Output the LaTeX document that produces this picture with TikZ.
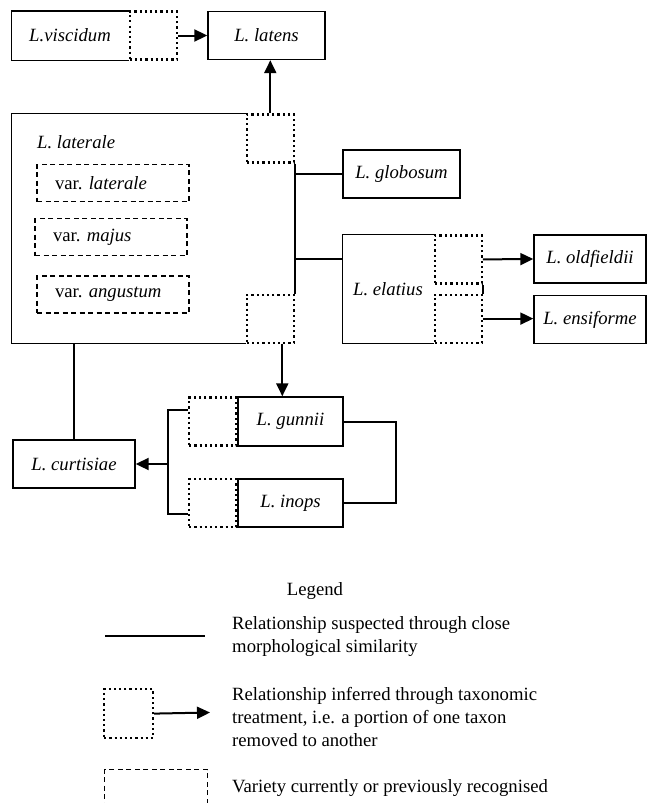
\documentclass[tikz,border=0pt]{standalone}
\usepackage{fontspec}
\setmainfont{Liberation Serif}
\usetikzlibrary{arrows.meta,calc}

\begin{document}
\begin{tikzpicture}[x=1pt,y=-1pt,font=\fontsize{18.7}{23}\selectfont,
  taxon/.style={draw,line width=1.4pt,minimum height=48pt,inner sep=0pt},
  rim/.style={line width=1.4pt},
  portion/.style={draw,line width=2.2pt,dash pattern=on 2.2pt off 3pt,minimum width=47pt,minimum height=48pt,inner sep=0pt},
  vari/.style={draw,line width=1.1pt,dash pattern=on 5pt off 3.5pt,minimum height=37pt,text width=116pt,align=left,inner xsep=18pt,inner ysep=0pt},
  link/.style={line width=2pt},
  arr/.style={link,-{Triangle[length=13pt,width=12pt]}}]
  \clip (0,0) rectangle (648,803);
  % top row
  \node[taxon,draw=none,minimum width=116pt] (visc) at (70,35.5) {\textit{L.viscidum}};
  \node[portion,anchor=west] (pVisc) at (visc.east) {};
  \draw[rim] (visc.north east)--(visc.north west)--(visc.south west)--(visc.south east);
  \node[taxon,minimum width=117pt] (latens) at (266.5,35.5) {\textit{L. latens}};
  % L. laterale with its varieties
  \node[taxon,draw=none,minimum width=233pt,minimum height=229pt] (later) at (128.5,228.5) {};
  \node[portion,anchor=north west] (pLatTop) at (later.north east) {};
  \node[portion,anchor=south west] (pLatBot) at (later.south east) {};
  \draw[rim] (later.north east)--(later.north west)--(later.south west)--(later.south east);
  \draw[rim] (pLatTop.south east)--(pLatBot.north east);
  \node[anchor=west,inner sep=0pt] (laterN) at (37,142) {\textit{L. laterale}};
  \node[vari] (vLat) at (113,183) {var.\ \textit{laterale}};
  \node[vari] (vMaj) at (111,237) {var.\ \textit{majus}};
  \node[vari] (vAng) at (113,294.5) {var.\ \textit{angustum}};
  % right side
  \node[taxon,minimum width=117pt] (glob) at (401.5,174) {\textit{L. globosum}};
  \node[taxon,draw=none,minimum width=90pt,minimum height=108pt] (elat) at (388,289) {\textit{L. elatius}};
  \node[portion,anchor=north west] (pElatA) at (elat.north east) {};
  \node[portion,anchor=south west] (pElatB) at (elat.south east) {};
  \draw[rim] (elat.north east)--(elat.north west)--(elat.south west)--(elat.south east);
  \draw[rim] (pElatA.south east)--(pElatB.north east);
  \node[taxon,minimum width=112pt] (oldf) at (590,259) {\textit{L. oldfieldii}};
  \node[taxon,minimum width=112pt] (ensi) at (590,319.5) {\textit{L. ensiforme}};
  % lower group
  \node[taxon,minimum width=105pt,minimum height=49pt] (gunn) at (290.5,421.5) {\textit{L. gunnii}};
  \node[portion,anchor=east] (pGunn) at (gunn.west) {};
  \node[taxon,minimum width=105pt] (inops) at (290.5,503) {\textit{L. inops}};
  \node[portion,anchor=east] (pInops) at (inops.west) {};
  \node[taxon,minimum width=122pt] (curt) at (74,464) {\textit{L. curtisiae}};
  \coordinate (fork) at (168,464);
  % connectors
  \draw[arr] (pVisc.east)--(latens.west);
  \draw[arr] (pLatTop.north)--(pLatTop.north |- latens.south);
  \draw[link] (pLatTop.east |- glob.west)--(glob.west);
  \draw[link] (pLatTop.east |- pElatA.center)--(elat.west |- pElatA.center);
  \draw[arr] (pElatA.east)--(oldf.west);
  \draw[arr] (pElatB.east)--(pElatB.east -| ensi.west);
  \draw[arr] ([xshift=12pt]pLatBot.south)--([xshift=12pt]pLatBot.south |- gunn.north);
  \draw[link] (curt.north |- later.south)--(curt.north);
  \draw[link] (gunn.east)--++(52,0) |- (inops.east);
  \draw[link] ([yshift=12pt]pGunn.west) -| (fork) |- ([yshift=-11pt]pInops.west);
  \draw[arr] (fork)--(curt.east);
  % legend
  \node (legT) at (315,591) {Legend};
  \coordinate (legS1) at (105,636); \coordinate (legS2) at (205,636);
  \draw[link] (legS1)--(legS2);
  \node[anchor=west,align=left,inner sep=0pt] (leg1) at (232,637) {Relationship suspected through close\\morphological similarity};
  \node[portion,anchor=north west,minimum width=49pt,minimum height=49pt] (pLeg) at (103,688) {};
  \coordinate (legA) at (210,712.5);
  \draw[arr] (pLeg.east)--(legA);
  \node[anchor=west,align=left,inner sep=0pt] (leg2) at (232,717) {Relationship inferred through taxonomic\\treatment, i.e. a portion of one taxon\\removed to another};
  \node[draw,line width=1.1pt,dash pattern=on 5pt off 3.5pt,anchor=north west,minimum width=103pt,minimum height=50pt] (vLeg) at (104,769) {};
  \node[anchor=west,inner sep=0pt] (leg3) at (232,788) {Variety currently or previously recognised};
\end{tikzpicture}
\end{document}
